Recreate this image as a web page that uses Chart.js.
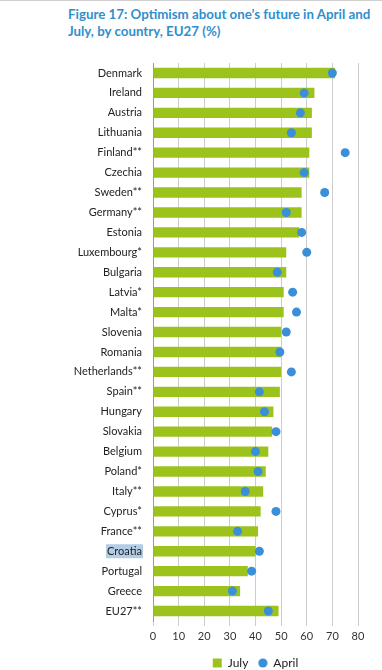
<!DOCTYPE html>
<html>
<head>
<meta charset="utf-8">
<script src="https://cdn.jsdelivr.net/npm/chart.js@4.4.1/dist/chart.umd.min.js"></script>
<style>
  html, body { margin: 0; padding: 0; background: #fff; }
  body { width: 382px; height: 670px; position: relative; overflow: hidden; border-top: 1px solid #d0d0d0; box-sizing: border-box; }
  #title {
    position: absolute; left: 68px; top: 5px;
    font-family: Lato, "Open Sans", sans-serif; font-weight: bold;
    font-size: 13.3px; line-height: 17px; color: #2f8fce; white-space: nowrap;
  }
  #wrap { position: absolute; left: 0; top: 0; width: 382px; height: 670px; }
</style>
</head>
<body>
<div id="title">Figure 17: Optimism about one’s future in April and<br>July, by country, EU27 (%)</div>
<div id="wrap"><canvas id="chart"></canvas></div>
<script>
const countries = ["Denmark", "Ireland", "Austria", "Lithuania", "Finland**", "Czechia", "Sweden**",
  "Germany**", "Estonia", "Luxembourg*", "Bulgaria", "Latvia*", "Malta*", "Slovenia", "Romania",
  "Netherlands**", "Spain**", "Hungary", "Slovakia", "Belgium", "Poland*", "Italy**", "Cyprus*",
  "France**", "Croatia", "Portugal", "Greece", "EU27**"];
const julyValues = [71, 63, 62, 62, 61, 61, 58, 58, 57, 52, 52, 51, 51, 50, 50, 50, 49.5, 47, 46.5, 45, 44, 43, 42, 41, 40, 37, 34, 49];
const aprilValues = [70, 59, 57.5, 54, 75, 59, 67, 52, 58, 60, 48.5, 54.5, 56, 52, 49.5, 54, 41.5, 43.5, 48, 40, 41, 36, 48, 33, 41.5, 38.5, 31, 45];
const xTicks = [0, 10, 20, 30, 40, 50, 60, 70, 80];

const labelFont = "Lato, 'Open Sans', sans-serif";
const yPad = 11;
const blue = "#3b8fd8";
const green = "#9bc31c";

// small round marker for the legend, so it matches the square in size
const dotIcon = document.createElement("canvas");
dotIcon.width = 10;
dotIcon.height = 10;
const dctx = dotIcon.getContext("2d");
dctx.fillStyle = blue;
dctx.beginPath();
dctx.arc(5, 5, 4.6, 0, Math.PI * 2);
dctx.fill();

const highlightLabel = {
  id: "highlightLabel",
  beforeDraw(chart) {
    const y = chart.scales.y;
    const idx = countries.indexOf("Croatia");
    const ctx = chart.ctx;
    ctx.save();
    ctx.font = "11px " + labelFont;
    const w = ctx.measureText("Croatia").width;
    const py = y.getPixelForValue(idx);
    const right = y.right - yPad;
    ctx.fillStyle = "#b3cde6";
    ctx.fillRect(right - w - 1, py - 7, w + 2, 14);
    ctx.restore();
  }
};

new Chart(document.getElementById("chart"), {
  type: "bar",
  data: {
    labels: countries,
    datasets: [
      {
        label: "July",
        data: julyValues,
        backgroundColor: green,
        barPercentage: 0.52,
        categoryPercentage: 1,
        pointStyle: "rect",
        order: 1
      },
      {
        type: "line",
        label: "April",
        data: aprilValues,
        indexAxis: "y",
        showLine: false,
        pointRadius: 4.5,
        pointHoverRadius: 4.5,
        pointBackgroundColor: blue,
        pointBorderWidth: 0,
        backgroundColor: blue,
        borderColor: blue,
        borderWidth: 0,
        pointStyle: "circle",
        order: 0
      }
    ]
  },
  options: {
    indexAxis: "y",
    responsive: true,
    maintainAspectRatio: false,
    animation: false,
    layout: { padding: { top: 62, right: 24, left: 0, bottom: -8 } },
    scales: {
      x: {
        min: 0,
        max: 80,
        afterBuildTicks: (scale) => { scale.ticks = xTicks.map((v) => ({ value: v })); },
        grid: { color: "#cccccc", tickLength: 5, drawOnChartArea: true },
        border: { display: false },
        ticks: { color: "#333", padding: 4, font: { family: labelFont, size: 11 } },
        afterFit: (scale) => { scale.height = 26; }
      },
      y: {
        grid: { display: false, drawTicks: false, tickLength: 0 },
        border: { display: true, color: "#999" },
        ticks: { color: "#222", padding: yPad, autoSkip: false, font: { family: labelFont, size: 11 } },
        afterFit: (scale) => { scale.width = 153; }
      }
    },
    plugins: {
      legend: {
        position: "bottom",
        fullSize: false,
        labels: {
          usePointStyle: true,
          boxWidth: 9,
          boxHeight: 9,
          padding: 10,
          color: "#222",
          font: { family: labelFont, size: 12 },
          sort: (a, b) => a.datasetIndex - b.datasetIndex,
          generateLabels: (chart) => {
            const items = Chart.defaults.plugins.legend.labels.generateLabels(chart);
            items.forEach((item) => {
              if (item.text === "April") item.pointStyle = dotIcon;
            });
            return items;
          }
        }
      },
      tooltip: { enabled: false }
    }
  },
  plugins: [highlightLabel]
});
</script>
</body>
</html>
